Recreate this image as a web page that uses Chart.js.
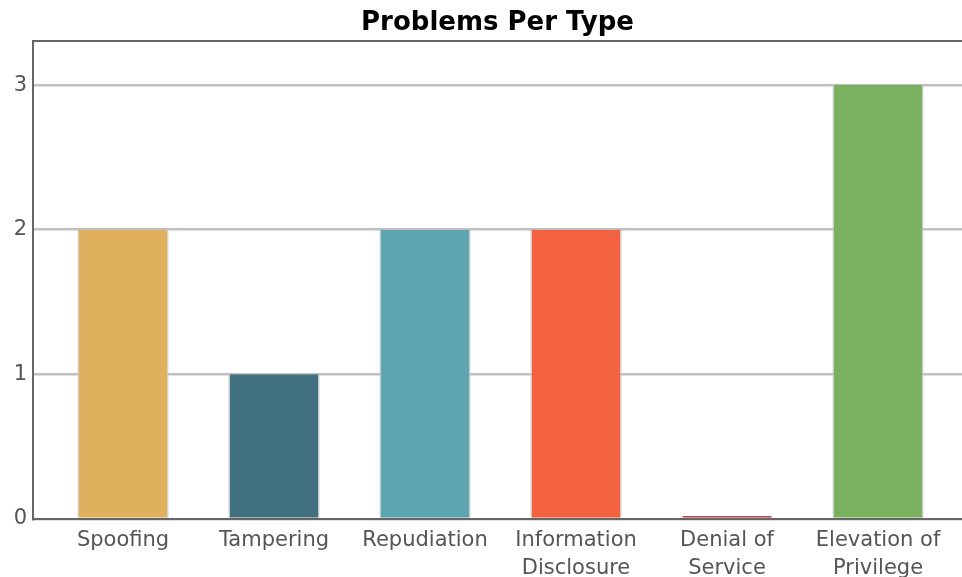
<!DOCTYPE html>
<html>
<head>
<meta charset="utf-8">
<script src="https://cdn.jsdelivr.net/npm/chart.js@4/dist/chart.umd.min.js"></script>
<style>
  html, body { margin: 0; padding: 0; background: #fff; }
  #wrap { width: 962px; height: 577px; }
</style>
</head>
<body>
<div id="wrap"><canvas id="c" width="962" height="577"></canvas></div>
<script>
// Threat categories (STRIDE) and problem counts per category
const categories = [
  ['Spoofing'],
  ['Tampering'],
  ['Repudiation'],
  ['Information', 'Disclosure'],
  ['Denial of', 'Service'],
  ['Elevation of', 'Privilege']
];
const problemCounts = [2, 1, 2, 2, 0, 3];
const barColors = ['#dfb15f', '#41717f', '#5fa4b1', '#f26140', '#b44848', '#7ab15f'];
const yTicks = [0, 1, 2, 3];

const FONT = '"DejaVu Sans", sans-serif';

// Top frame line of the plot panel
const panelFrame = {
  id: 'panelFrame',
  afterDraw(chart) {
    const { ctx, chartArea } = chart;
    ctx.save();
    ctx.strokeStyle = '#666';
    ctx.lineWidth = 2;
    ctx.beginPath();
    ctx.moveTo(chartArea.left - 1, chartArea.top);
    ctx.lineTo(chartArea.right, chartArea.top);
    ctx.stroke();
    ctx.restore();
  }
};

new Chart(document.getElementById('c'), {
  type: 'bar',
  data: {
    datasets: [{
      data: problemCounts.map((v, i) => ({ x: i, y: v })),
      backgroundColor: barColors,
      borderColor: 'rgba(205,205,205,0.9)',
      borderWidth: { left: 1.5, right: 1.5, top: 0, bottom: 0 },
      borderSkipped: false,
      barPercentage: 0.605,
      categoryPercentage: 1.0,
      minBarLength: 3
    }]
  },
  options: {
    responsive: false,
    animation: false,
    layout: { padding: { left: 0, right: 0, top: 0, bottom: 0 } },
    plugins: {
      legend: { display: false },
      tooltip: { enabled: false },
      title: {
        display: true,
        text: 'Problems Per Type',
        fullSize: false,
        color: '#000',
        font: { family: FONT, size: 26, weight: 'bold', lineHeight: 1.0 },
        padding: { top: 10, bottom: 5 }
      }
    },
    scales: {
      x: {
        type: 'linear',
        offset: false,
        min: -0.596,
        max: 5.556,
        afterBuildTicks: axis => { axis.ticks = categories.map((_, i) => ({ value: i })); },
        afterFit: axis => { axis.height = 58; },
        grid: { display: false, drawTicks: false, offset: false },
        border: { display: true, color: '#666', width: 2 },
        ticks: {
          autoSkip: false,
          maxRotation: 0,
          padding: 8,
          color: '#555',
          font: { family: FONT, size: 21, lineHeight: 1.33 },
          callback: v => categories[v]
        }
      },
      y: {
        min: 0,
        max: 3.305,
        afterBuildTicks: axis => { axis.ticks = yTicks.map(v => ({ value: v })); },
        afterFit: axis => { axis.width = 33; },
        grid: { color: '#bfbfbf', lineWidth: 2.5, drawTicks: false },
        border: { display: true, color: '#666', width: 2 },
        ticks: {
          padding: 6,
          color: '#555',
          font: { family: FONT, size: 21 },
          callback: v => String(v)
        }
      }
    }
  },
  plugins: [panelFrame]
});
</script>
</body>
</html>
